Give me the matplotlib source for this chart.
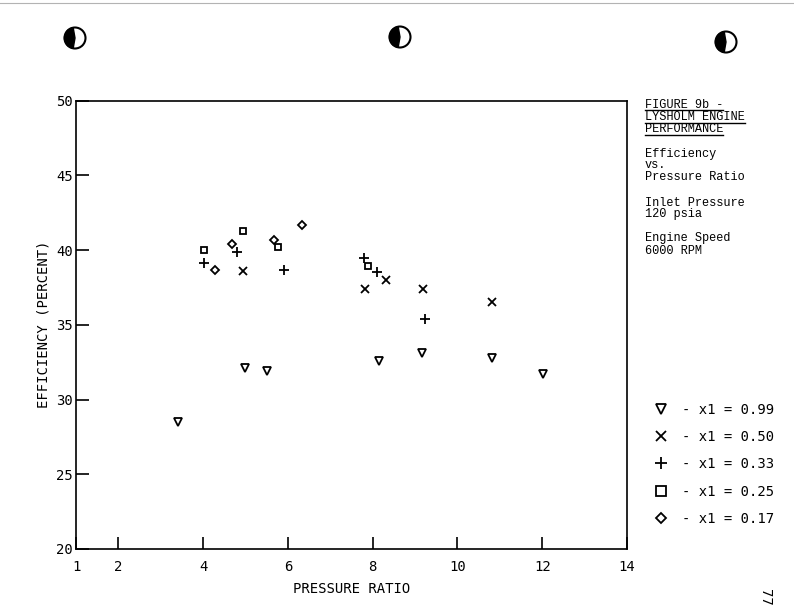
import matplotlib.pyplot as plt
import matplotlib.lines as mlines
from matplotlib.patches import Circle, Wedge

# efficiency (percent) vs pressure ratio, one series per x1
x_099 = [3.40, 4.98, 5.51, 8.14, 9.17, 10.82, 12.02]
y_099 = [28.5, 32.1, 31.9, 32.6, 33.1, 32.8, 31.7]

x_050 = [4.94, 7.81, 8.31, 9.19, 10.82]
y_050 = [38.6, 37.4, 38.0, 37.4, 36.5]

x_033 = [4.02, 4.81, 5.91, 7.79, 8.11, 9.23]
y_033 = [39.15, 39.85, 38.65, 39.45, 38.5, 35.4]

x_025 = [4.01, 4.94, 5.77, 7.89]
y_025 = [40.0, 41.3, 40.2, 38.9]

x_017 = [4.27, 4.69, 5.66, 6.34]
y_017 = [38.65, 40.4, 40.7, 41.65]

series = [
    (x_099, y_099, 'v', '- x1 = 0.99'),
    (x_050, y_050, 'x', '- x1 = 0.50'),
    (x_033, y_033, '+', '- x1 = 0.33'),
    (x_025, y_025, 's', '- x1 = 0.25'),
    (x_017, y_017, 'D', '- x1 = 0.17'),
]

xticks = [1, 2, 4, 6, 8, 10, 12, 14]
yticks = [20, 25, 30, 35, 40, 45, 50]

plotter = 'DejaVu Sans Mono'
typer = 'Liberation Mono'

W, H = 794, 609
fig = plt.figure(figsize=(W / 100, H / 100), dpi=100)
ax = fig.add_axes([76 / W, (H - 549) / H, (627 - 76) / W, (549 - 100.5) / H])

for xs, ys, m, lab in series:
    ms = {'v': 5.5, 'x': 6, '+': 7, 's': 5, 'D': 4.2}[m]
    ax.plot(xs, ys, linestyle='none', marker=m, ms=ms, mfc='white',
            mec='black', mew=1.3, color='black', label=lab)

ax.set_xlim(1, 14)
ax.set_ylim(20, 50)
ax.set_xticks(xticks)
ax.set_yticks(yticks)
ax.set_xticklabels([str(t) for t in xticks], fontfamily=plotter, fontsize=10)
ax.set_yticklabels([str(t) for t in yticks], fontfamily=plotter, fontsize=10)
ax.tick_params(direction='in', length=9, width=1.2, color='black')
ax.tick_params(axis='x', pad=8)
ax.tick_params(axis='y', pad=2)
for s in ax.spines.values():
    s.set_linewidth(1.2)

ax.set_xlabel('PRESSURE RATIO', fontfamily=plotter, fontsize=10, labelpad=6)
ax.set_ylabel('EFFICIENCY (PERCENT)', fontfamily=plotter, fontsize=10, labelpad=4)

leg = ax.legend(loc='upper left', bbox_to_anchor=(647 / W, (H - 396) / H),
                bbox_transform=fig.transFigure, frameon=False,
                prop={'family': plotter, 'size': 10}, handlelength=1.0,
                handletextpad=1.0, labelspacing=0.95, borderpad=0, markerscale=1.3)

# right-hand notes
notes = [
    (105.5, 'FIGURE 9b -', True),
    (117.5, 'LYSHOLM ENGINE', True),
    (129.5, 'PERFORMANCE', True),
    (153.5, 'Efficiency', False),
    (165.5, 'vs.', False),
    (177.5, 'Pressure Ratio', False),
    (202.5, 'Inlet Pressure', False),
    (214.5, '120 psia', False),
    (238.5, 'Engine Speed', False),
    (250.5, '6000 RPM', False),
]
texts = []
for yp, s, ul in notes:
    t = fig.text(645 / W, (H - yp) / H, s, family=typer, fontsize=8.6,
                 va='center', ha='left')
    texts.append((t, ul))

fig.canvas.draw()
r = fig.canvas.get_renderer()
for t, ul in texts:
    if ul:
        bb = t.get_window_extent(r)
        yl = bb.y0 + 1
        fig.add_artist(mlines.Line2D([bb.x0 / W, bb.x1 / W], [yl / H, yl / H],
                                     color='black', lw=1.0, transform=fig.transFigure))

# binder-hole marks and page number from the scan
for cx, cy in [(75, 38), (400, 37), (726, 42)]:
    c = (cx / 100, (H - cy) / 100)
    fig.add_artist(Wedge(c, 0.105, 100, 260, transform=fig.dpi_scale_trans,
                         facecolor='black', edgecolor='black'))
    fig.add_artist(Circle(c, 0.105, transform=fig.dpi_scale_trans,
                          facecolor='none', edgecolor='black', lw=1.5))
fig.add_artist(mlines.Line2D([0, 1], [1 - 3 / H, 1 - 3 / H], color='0.7', lw=0.8,
                             transform=fig.transFigure))
fig.text(765 / W, (H - 597) / H, '77', rotation=-90, family=plotter, fontsize=10,
         ha='center', va='center')

fig.savefig('out.png', dpi=100)
